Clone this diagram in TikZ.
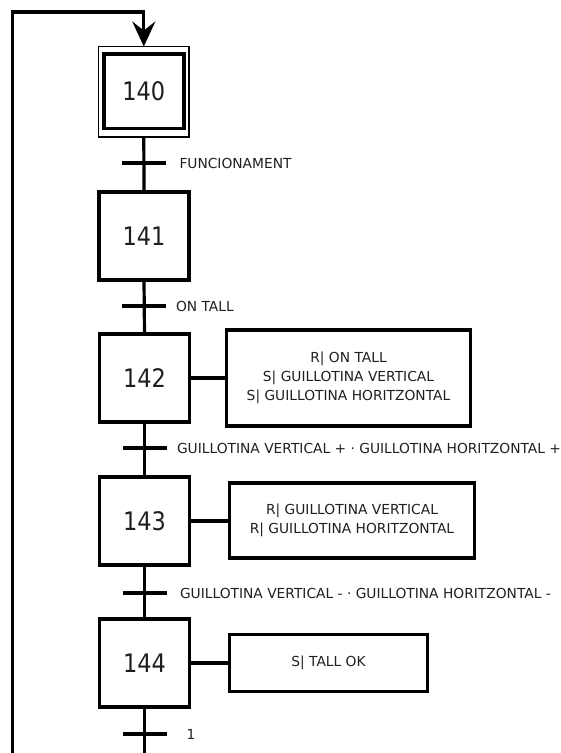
\documentclass[tikz,border=0pt]{standalone}
\usepackage{fontspec}
\setmainfont{DejaVu Sans}
\newfontfamily\stepfont{DejaVu Sans}[FakeStretch=0.88]
\usetikzlibrary{arrows.meta}
\definecolor{ink}{gray}{0.12}

\begin{document}
\begin{tikzpicture}[x=1pt,y=-1pt,
  every node/.style={inner sep=0pt, outer sep=0pt},
  stepbox/.style={draw, line width=3.2pt, minimum width=90pt, minimum height=88pt,
    font=\stepfont\fontsize{25.5}{30}\selectfont, text=ink},
  initouter/.style={draw, line width=1.4pt, minimum width=90.5pt, minimum height=90.5pt},
  initinner/.style={draw, line width=3.5pt, minimum width=80pt, minimum height=74.5pt,
    font=\stepfont\fontsize{25.5}{30}\selectfont, text=ink},
  actbox/.style={draw, line width=3.2pt, align=center,
    font=\fontsize{13.8}{19.3}\selectfont, text=ink},
  tbar/.style={fill=black, minimum width=44pt, minimum height=3.2pt},
  cond/.style={anchor=west, font=\fontsize{13.8}{16}\selectfont, text=ink},
  link/.style={line width=3.2pt},
]
\useasboundingbox (0,0) rectangle (561,753);

% initial step
\node[initouter] (s140) at (143.8,91.8) {};
\node[initinner] (s140i) at (143.8,91.2) {140};

% steps
\node[stepbox] (s141) at (144,236) {141};
\node[stepbox] (s142) at (144.5,378) {142};
\node[stepbox] (s143) at (144.5,521) {143};
\node[stepbox] (s144) at (144.5,663) {144};

% actions
\node[actbox, minimum width=244pt, minimum height=96pt] (a142) at (348.5,378)
  {R| ON TALL\\S| GUILLOTINA VERTICAL\\S| GUILLOTINA HORITZONTAL};
\node[actbox, minimum width=245pt, minimum height=75pt] (a143) at (352,520.5)
  {R| GUILLOTINA VERTICAL\\R| GUILLOTINA HORITZONTAL};
\node[actbox, minimum width=198pt, minimum height=57pt] (a144) at (328.5,663)
  {S| TALL OK};

% transitions
\node[tbar] (t0) at (144,163) {};
\node[tbar] (t1) at (144,306) {};
\node[tbar] (t2) at (144.5,448) {};
\node[tbar] (t3) at (144.5,593) {};
\node[tbar] (t4) at (144.5,734) {};

\node[cond] (c0) at (179.5,163) {FUNCIONAMENT};
\node[cond] (c1) at (176,306) {ON TALL};
\node[cond] (c2) at (177,448) {GUILLOTINA VERTICAL + · GUILLOTINA HORITZONTAL +};
\node[cond] (c3) at (180,593) {GUILLOTINA VERTICAL - · GUILLOTINA HORITZONTAL -};
\node[cond] (c4) at (186.5,734) {1};

% links between steps
\draw[link] (s140.south) -- (s141.north);
\draw[link] (s141.south) -- (s142.north);
\draw[link] (s142.south) -- (s143.north);
\draw[link] (s143.south) -- (s144.north);

% links to actions
\draw[link] (s142.east) -- (s142.east -| a142.west);
\draw[link] (s143.east) -- (s143.east -| a143.west);
\draw[link] (s144.east) -- (s144.east -| a144.west);

% loop back to the initial step
\coordinate (lb) at (12.5,757);
\coordinate (lt) at (12.5,12);
\draw[link, -{Stealth[length=25pt, width=23pt, inset=9pt]}]
  (s144.south) -- (s144.south |- lb) -- (lb) -- (lt) -- (s140.north |- lt) -- (s140.north);
\end{tikzpicture}
\end{document}
